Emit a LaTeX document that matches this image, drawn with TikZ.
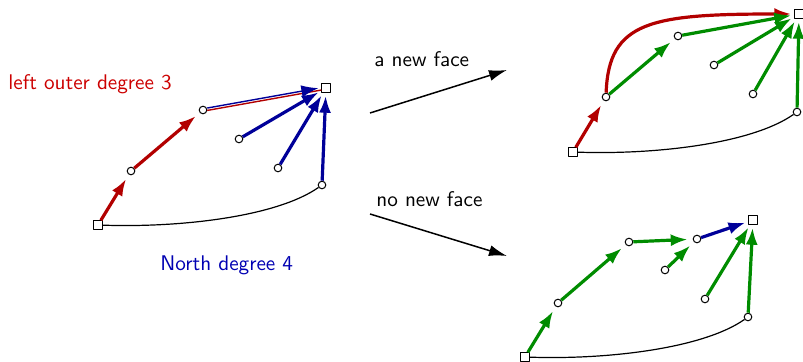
\documentclass[tikz,border=0pt]{standalone}
\usetikzlibrary{arrows.meta}
\begin{document}
\begin{tikzpicture}[x=0.5pt, y=-0.5pt, font=\sffamily\fontsize{10.6}{13}\selectfont, line join=round,
        vtx/.style={circle, draw, fill=white, inner sep=0pt, minimum size=3.8pt, line width=0.5pt},
        rt/.style={rectangle, draw, fill=white, inner sep=0pt, minimum size=4.2pt, line width=0.5pt},
        fat/.style={line width=1.6pt, -{Latex[length=8.5pt,width=6pt]}, shorten >=1.5pt},
        short/.style={shorten >=2.5pt},
        lbl/.style={anchor=base west, inner sep=0pt}]
        \useasboundingbox (0,0) rectangle (803,362);
        % left: before
        \node[rt]  (lS)  at (98,225)  {};
        \node[vtx] (la1) at (131,171) {};
        \node[vtx] (la2) at (203,110) {};
        \node[rt]  (lN)  at (326,88)  {};
        \node[vtx] (lb1) at (239,139) {};
        \node[vtx] (lb2) at (278,168) {};
        \node[vtx] (lc)  at (322,185) {};
        \draw[line width=0.6pt] (lS) to[out=-2, in=-145, out looseness=0.9, in looseness=0.6] (lc);
        \draw[red!70!black, fat, short] (lS) -- (la1);
        \draw[red!70!black, fat, short] (la1) -- (la2);
        \draw[red!70!black, line width=0.7pt, transform canvas={yshift=-0.6pt}] (la2) -- (lN);
        \draw[blue!60!black, line width=0.7pt, -{Latex[length=8.5pt,width=6pt]}, shorten >=1.5pt, transform canvas={yshift=0.6pt}] (la2) -- (lN);
        \foreach \v in {lb1,lb2,lc} { \draw[blue!60!black, fat] (\v) -- (lN); }
        \node[lbl, red!80!black]  (lblout)   at (8,90)    {left outer degree 3};
        \node[lbl, blue!70!black] (lblnorth) at (160,271) {North degree 4};
        % the two cases
        \coordinate (ga) at (370,113);
        \coordinate (gb) at (507,70);
        \coordinate (ha) at (370,214);
        \coordinate (hb) at (507,256);
        \draw[line width=0.75pt, -{Latex[length=9pt,width=5.5pt]}] (ga) -- (gb);
        \draw[line width=0.75pt, -{Latex[length=9pt,width=5.5pt]}] (ha) -- (hb);
        \node[lbl] (lblnew) at (374,67)  {a new face};
        \node[lbl] (lblno)  at (376,207) {no new face};
        % top right: a new face
        \node[rt]  (tS)  at (573,152) {};
        \node[vtx] (ta1) at (606,97)  {};
        \node[vtx] (ta2) at (678,36)  {};
        \node[rt]  (tN)  at (799,14)  {};
        \node[vtx] (tb1) at (714,65)  {};
        \node[vtx] (tb2) at (753,94)  {};
        \node[vtx] (tc)  at (797,112) {};
        \draw[line width=0.6pt] (tS) to[out=-2, in=-145, out looseness=0.9, in looseness=0.6] (tc);
        \draw[red!70!black, fat, short] (tS) -- (ta1);
        \draw[red!70!black, fat] (ta1) to[out=88, in=180, out looseness=0.9, in looseness=1.8] (tN);
        \draw[green!55!black, fat, short] (ta1) -- (ta2);
        \foreach \v in {ta2,tb1,tb2,tc} { \draw[green!55!black, fat] (\v) -- (tN); }
        % bottom right: no new face
        \node[rt]  (bS)  at (525,357) {};
        \node[vtx] (ba1) at (558,303) {};
        \node[vtx] (ba2) at (629,242) {};
        \node[vtx] (bm)  at (697,239) {};
        \node[rt]  (bN)  at (753,220) {};
        \node[vtx] (bb1) at (665,270) {};
        \node[vtx] (bb2) at (705,299) {};
        \node[vtx] (bc)  at (748,317) {};
        \draw[line width=0.6pt] (bS) to[out=-2, in=-145, out looseness=0.9, in looseness=0.6] (bc);
        \draw[green!55!black, fat, short] (bS) -- (ba1);
        \draw[green!55!black, fat, short] (ba1) -- (ba2);
        \draw[green!55!black, fat, short] (ba2) -- (bm);
        \draw[green!55!black, fat, short] (bb1) -- (bm);
        \draw[blue!60!black, fat] (bm) -- (bN);
        \foreach \v in {bb2,bc} { \draw[green!55!black, fat] (\v) -- (bN); }
    \end{tikzpicture}
\end{document}
